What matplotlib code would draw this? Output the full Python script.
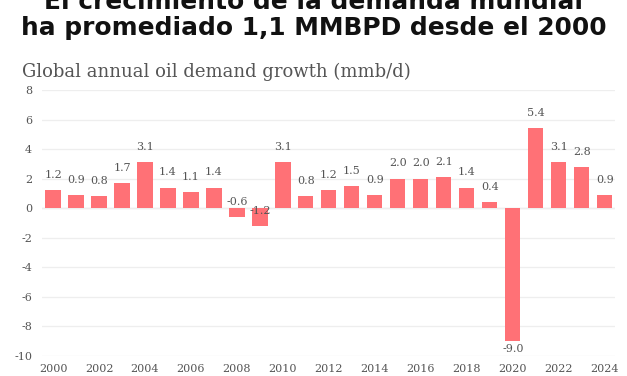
import matplotlib
matplotlib.use("Agg")
import matplotlib.pyplot as plt

plt.rcParams["axes.unicode_minus"] = False

years = list(range(2000, 2025))
growth = [1.2, 0.9, 0.8, 1.7, 3.1, 1.4, 1.1, 1.4, -0.6, -1.2, 3.1, 0.8, 1.2, 1.5, 0.9,
          2.0, 2.0, 2.1, 1.4, 0.4, -9.0, 5.4, 3.1, 2.8, 0.9]
labels = ["1.2", "0.9", "0.8", "1.7", "3.1", "1.4", "1.1", "1.4", "-0.6", "-1.2", "3.1", "0.8",
          "1.2", "1.5", "0.9", "2.0", "2.0", "2.1", "1.4", "0.4", "-9.0", "5.4", "3.1", "2.8", "0.9"]
xtick_years = list(range(2000, 2025, 2))
yticks = [8, 6, 4, 2, 0, -2, -4, -6, -8, -10]

title1 = "El crecimiento de la demanda mundial"
title2 = "ha promediado 1,1 MMBPD desde el 2000"
subtitle = "Global annual oil demand growth (mmb/d)"

bar_color = "#FF7176"
text_grey = "#555555"
serif = ["DejaVu Serif"]
title_font = ["DejaVu Sans"]

fig = plt.figure(figsize=(6.27, 3.76), dpi=100)
ax = fig.add_axes([0.067, 0.0532, 0.914, 0.7074])

ax.bar(years, growth, width=0.66, color=bar_color, zorder=3)
for y, v, lab in zip(years, growth, labels):
    if v > -5:
        ax.annotate(lab, (y, v), xytext=(0, 11), textcoords="offset points",
                    ha="center", va="center", fontsize=8, color=text_grey, family=serif, zorder=4)
    else:
        ax.annotate(lab, (y, v), xytext=(0, -5.5), textcoords="offset points",
                    ha="center", va="center", fontsize=8, color=text_grey, family=serif, zorder=4)

ax.set_xlim(years[0] - 0.48, years[-1] + 0.45)
ax.set_ylim(-10, 8)
ax.set_yticks(yticks)
ax.set_xticks(xtick_years)
ax.set_xticklabels([str(v) for v in xtick_years])
ax.grid(axis="y", color="#eeeeee", linewidth=0.9, zorder=0)
ax.axhline(0, color="#dddddd", linewidth=0.9, zorder=1)
for s in ax.spines.values():
    s.set_visible(False)
ax.tick_params(length=0, labelsize=8, colors=text_grey, pad=7)
for t in ax.get_xticklabels() + ax.get_yticklabels():
    t.set_family(serif)
ax.tick_params(axis="x", pad=6)

fig.text(0.5, 1 - 9 / 376, title1, ha="center", va="baseline", fontsize=17.9,
         fontweight="bold", family=title_font, color="#111111")
fig.text(0.5, 1 - 35 / 376, title2, ha="center", va="baseline", fontsize=17.9,
         fontweight="bold", family=title_font, color="#111111")
fig.text(22 / 627, 1 - 72 / 376, subtitle, ha="left", va="center", fontsize=13,
         family=serif, color=text_grey)

fig.savefig("out.png", dpi=100)
